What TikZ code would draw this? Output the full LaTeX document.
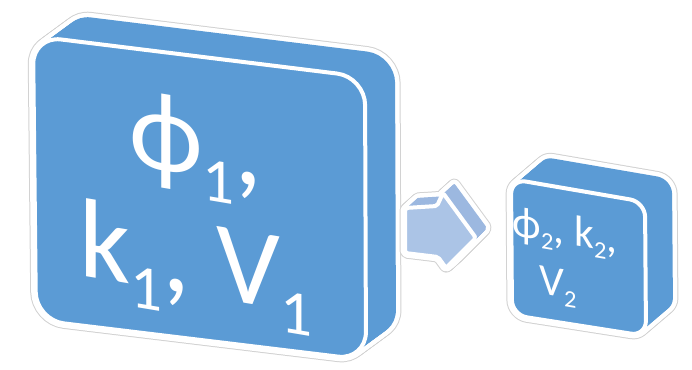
\documentclass[tikz,border=0pt]{standalone}
\usepackage{fontspec}
\setmainfont{Carlito}
\usepackage{graphicx}
\usepackage{tikz}
\definecolor{BoxBlue}{HTML}{5B9BD5}
\definecolor{ArrFace}{HTML}{ABC4E6}
\definecolor{ArrSide}{HTML}{9CB8E0}
\definecolor{RimGrey}{HTML}{D2D2D2}
\newcommand{\lowidx}[1]{\raisebox{-0.2em}{\scalebox{0.56}{#1}}}
% extruded slab: outline, depth dx, depth dy, corner radius, face fill, side fill
\newcommand{\slab}[6]{%
  \foreach \i in {0,...,20}
    \draw[rim, draw=RimGrey, line width=2.75mm, rounded corners=#4,
          shift={(\i*#2/20,\i*#3/20)}] #1;
  \foreach \i in {0,...,20}
    \draw[rim, draw=white, line width=2.25mm, rounded corners=#4,
          shift={(\i*#2/20,\i*#3/20)}] #1;
  \foreach \i in {0,...,20}
    \fill[#6, rounded corners=#4, shift={(\i*#2/20,\i*#3/20)}] #1;
  \draw[edge, fill=#5, rounded corners=#4] #1;
}

\begin{document}
\begin{tikzpicture}[
  x=0.25mm, y=-0.25mm,
  rim/.style={line join=round},
  edge/.style={draw=white, line width=1mm, line join=round},
  lbl/.style={text=white, inner sep=0pt, anchor=base},
  bigtxt/.style={lbl, font=\fontsize{80}{84}\selectfont, yslant=-0.167},
  smalltxt/.style={lbl, font=\fontsize{31}{34}\selectfont, yslant=-0.17},
]
\useasboundingbox (0,0) rectangle (692,369);

% ── large slab ───────────────────────────────────────────────────────────
\slab{(33,36) -- (365,77) -- (366,360) -- (36,320) -- cycle}{30}{-22}{7mm}{BoxBlue}{BoxBlue}
\node[bigtxt] (phi1) at (196,176) {ϕ\lowidx{1},};
\node[bigtxt] (kv1)  at (196,295) {k\lowidx{1}, V\lowidx{1}};

% ── block arrow ──────────────────────────────────────────────────────────
\slab{(405,208) -- (437,206) -- (443,193) -- (476,238) -- (446,268) -- (438,257)
      -- (405,253) -- cycle}{11}{-10}{0.5mm}{ArrFace}{ArrSide}

% ── small slab ───────────────────────────────────────────────────────────
\slab{(511,179) -- (645,202) -- (646,336) -- (512,315) -- cycle}{27}{-23}{3.75mm}{BoxBlue}{BoxBlue}
\node[smalltxt] (phik2) at (565,244) {ϕ\lowidx{2}, k\lowidx{2},};
\node[smalltxt] (v2)    at (558,297) {V\lowidx{2}};

\end{tikzpicture}
\end{document}
